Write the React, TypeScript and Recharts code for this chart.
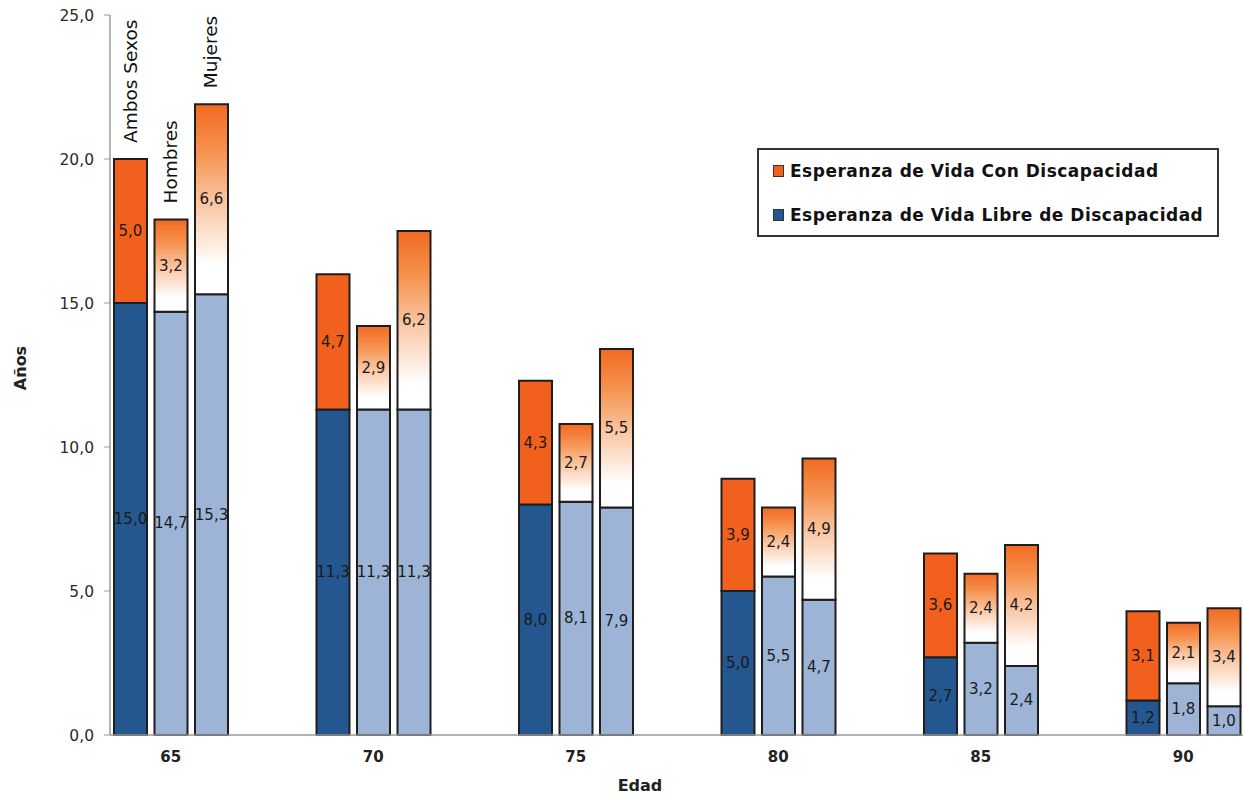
import React from 'react';
import { BarChart, Bar, XAxis, YAxis, Cell, LabelList, Label } from 'recharts';

const ages = ['65', '70', '75', '80', '85', '90'];
const groupNames = ['Ambos Sexos', 'Hombres', 'Mujeres'];
const groupKinds = ['A', 'H', 'M'];

const libreAmbos = [15.0, 11.3, 8.0, 5.0, 2.7, 1.2];
const conAmbos = [5.0, 4.7, 4.3, 3.9, 3.6, 3.1];
const libreHombres = [14.7, 11.3, 8.1, 5.5, 3.2, 1.8];
const conHombres = [3.2, 2.9, 2.7, 2.4, 2.4, 2.1];
const libreMujeres = [15.3, 11.3, 7.9, 4.7, 2.4, 1.0];
const conMujeres = [6.6, 6.2, 5.5, 4.9, 4.2, 3.4];

const yTicks = [0, 5, 10, 15, 20, 25];
const legendLabels = ['Esperanza de Vida Con Discapacidad', 'Esperanza de Vida Libre de Discapacidad'];

const FONT = '"DejaVu Sans", Verdana, sans-serif';
const DARK_BLUE = '#24568f';
const LIGHT_BLUE = '#9db4d7';
const ORANGE = '#f1611d';

type Row = { key: string; tick: string; kind: string; libre: number | null; con: number | null };

const libreByKind: Record<string, number[]> = { A: libreAmbos, H: libreHombres, M: libreMujeres };
const conByKind: Record<string, number[]> = { A: conAmbos, H: conHombres, M: conMujeres };

const rows: Row[] = ages.flatMap((age, i) => {
  const bars = groupKinds.map((k) => ({
    key: `${age}-${k}`,
    tick: k === 'H' ? age : '',
    kind: k,
    libre: libreByKind[k][i],
    con: conByKind[k][i],
  }));
  const blanks = [1, 2].map((b) => ({ key: `${age}-gap${b}`, tick: '', kind: '-', libre: null, con: null }));
  return [...bars, ...blanks];
});

const tickByKey: Record<string, string> = {};
rows.forEach((r) => (tickByKey[r.key] = r.tick));

const fmt = (v: number) => v.toFixed(1).replace('.', ',');

const box = (p: any) => {
  const vb = p.viewBox || {};
  return {
    x: Number(p.x ?? vb.x),
    y: Number(p.y ?? vb.y),
    width: Number(p.width ?? vb.width),
    height: Number(p.height ?? vb.height),
  };
};

const valueOf = (v: any): number | null => {
  if (v == null) return null;
  if (Array.isArray(v)) return Number(v[1]) - Number(v[0]);
  const n = Number(v);
  return isNaN(n) ? null : n;
};

const valueLabel = (p: any) => {
  const v = valueOf(p.value);
  if (v == null || v === 0) return null;
  const b = box(p);
  return (
    <text
      x={b.x + b.width / 2}
      y={b.y + b.height / 2}
      textAnchor="middle"
      dominantBaseline="central"
      fontFamily={FONT}
      fontSize={15}
      fill="#1a1a1a"
    >
      {fmt(v)}
    </text>
  );
};

const nameLabel = (p: any) => {
  if (p.index > 2) return null;
  const b = box(p);
  const cx = b.x + b.width / 2 + 6;
  const cy = b.y - 16;
  return (
    <text
      x={cx}
      y={cy}
      transform={`rotate(-90 ${cx} ${cy})`}
      textAnchor="start"
      fontFamily={FONT}
      fontSize={18.5}
      fill="#111"
    >
      {groupNames[p.index]}
    </text>
  );
};

const XTick = (p: any) => {
  const t = tickByKey[p.payload.value];
  if (!t) return null;
  return (
    <text x={p.x} y={757} textAnchor="middle" dominantBaseline="central" fontFamily={FONT} fontSize={15} fontWeight="bold" fill="#222">
      {t}
    </text>
  );
};

const LegendBox = () => (
  <div
    style={{
      position: 'absolute',
      left: 757,
      top: 148,
      width: 462,
      height: 89,
      boxSizing: 'border-box',
      border: '2px solid #333',
      background: '#fff',
      fontFamily: FONT,
      fontSize: 17,
      fontWeight: 'bold',
      letterSpacing: 0.5,
      color: '#111',
      paddingLeft: 14,
    }}
  >
    {legendLabels.map((l, i) => (
      <div key={l} style={{ display: 'flex', alignItems: 'center', height: 22, marginTop: i === 0 ? 10 : 22 }}>
        <span
          style={{
            display: 'inline-block',
            width: 9,
            height: 10,
            border: '1px solid #333',
            background: i === 0 ? ORANGE : DARK_BLUE,
            marginRight: 6,
          }}
        />
        <span>{l}</span>
      </div>
    ))}
  </div>
);

export default function App() {
  return (
    <div style={{ position: 'absolute', left: 0, top: 0, width: 1243, height: 798, overflow: 'hidden', background: '#fff' }}>
      <BarChart
        width={1330}
        height={798}
        data={rows}
        margin={{ top: 15, right: 5, bottom: 13, left: 0 }}
        barCategoryGap={4}
      >
        <defs>
          <linearGradient id="fadeOrange" x1="0" y1="0" x2="0" y2="1">
            <stop offset="0" stopColor="#f26a22" />
            <stop offset="0.25" stopColor="#f5924f" />
            <stop offset="0.5" stopColor="#f9c29c" />
            <stop offset="0.72" stopColor="#fde8da" />
            <stop offset="0.85" stopColor="#ffffff" />
            <stop offset="1" stopColor="#ffffff" />
          </linearGradient>
        </defs>
        <XAxis
          dataKey="key"
          interval={0}
          tickLine={false}
          tickSize={0}
          axisLine={{ stroke: '#9a9a9a', strokeWidth: 1.5 }}
          tick={<XTick />}
          height={50}
        >
          <Label
            content={() => (
              <text x={640} y={785} textAnchor="middle" dominantBaseline="central" fontFamily={FONT} fontSize={16} fontWeight="bold" fill="#222">
                Edad
              </text>
            )}
          />
        </XAxis>
        <YAxis
          width={110}
          domain={[0, 25]}
          ticks={yTicks}
          interval={0}
          tickFormatter={fmt}
          tickSize={6}
          tickMargin={10}
          axisLine={{ stroke: '#9a9a9a', strokeWidth: 1.5 }}
          tickLine={{ stroke: '#9a9a9a' }}
          tick={{ fontFamily: FONT, fontSize: 15.5, fill: '#2a2a2a' }}
        >
          <Label
            content={() => (
              <text x={20} y={368} transform="rotate(-90 20 368)" textAnchor="middle" dominantBaseline="central" fontFamily={FONT} fontSize={16} fontWeight="bold" fill="#222">
                Años
              </text>
            )}
          />
        </YAxis>
        <Bar dataKey="libre" stackId="s" stroke="#1e1e1e" strokeWidth={2} isAnimationActive={false}>
          {rows.map((r) => (
            <Cell key={r.key} fill={r.kind === 'A' ? DARK_BLUE : LIGHT_BLUE} />
          ))}
          <LabelList dataKey="libre" content={valueLabel} />
        </Bar>
        <Bar dataKey="con" stackId="s" stroke="#1e1e1e" strokeWidth={2} isAnimationActive={false}>
          {rows.map((r) => (
            <Cell key={r.key} fill={r.kind === 'A' ? ORANGE : 'url(#fadeOrange)'} />
          ))}
          <LabelList dataKey="con" content={valueLabel} />
          <LabelList dataKey="con" content={nameLabel} />
        </Bar>
      </BarChart>
      <LegendBox />
    </div>
  );
}
